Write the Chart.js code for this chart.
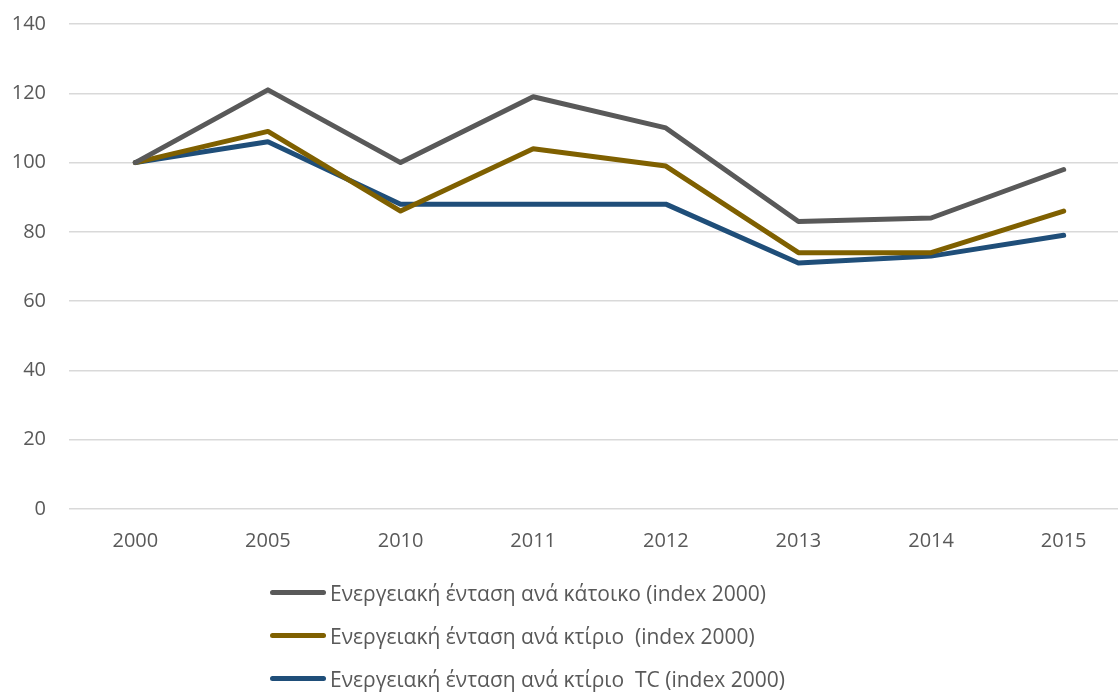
<!DOCTYPE html>
<html>
<head>
<meta charset="utf-8">
<script src="https://cdn.jsdelivr.net/npm/chart.js@4/dist/chart.umd.min.js"></script>
<style>
  html, body { margin: 0; padding: 0; background: #fff; overflow: hidden; }
  #wrap { position: absolute; left: 0; top: 0; width: 1130px; height: 573px; }
  #leg { position: absolute; left: 270px; top: 571px; font-family: "Open Sans", sans-serif; font-size: 21px; color: #595959; }
  .lg-row { height: 43px; display: flex; align-items: center; white-space: pre; }
  .lg-line { width: 56px; height: 5px; border-radius: 3px; margin-right: 4px; }
</style>
</head>
<body>
<div id="wrap"><canvas id="chart"></canvas></div>
<div id="leg"></div>
<script>
var YEARS = ['2000', '2005', '2010', '2011', '2012', '2013', '2014', '2015'];
var PER_RESIDENT = [100, 121, 100, 119, 110, 83, 84, 98];
var PER_BUILDING = [100, 109, 86, 104, 99, 74, 74, 86];
var PER_BUILDING_TC = [100, 106, 88, 88, 88, 71, 73, 79];
var SERIES_NAMES = [
  'Ενεργειακή ένταση ανά κάτοικο (index 2000)',
  'Ενεργειακή ένταση ανά κτίριο  (index 2000)',
  'Ενεργειακή ένταση ανά κτίριο  TC (index 2000)'
];
var COLORS = ['#595959', '#7f6000', '#1f4e79'];
var Y_TICKS = [0, 20, 40, 60, 80, 100, 120, 140];

var TEXT = '#595959';
var FONT = { family: '"Open Sans", sans-serif', size: 20 };

function ds(i, data) {
  return {
    label: SERIES_NAMES[i],
    data: data,
    borderColor: COLORS[i],
    backgroundColor: COLORS[i],
    borderWidth: 5,
    pointRadius: 0,
    tension: 0,
    borderCapStyle: 'round',
    borderJoinStyle: 'round'
  };
}

var chart = new Chart(document.getElementById('chart'), {
  type: 'line',
  data: {
    labels: YEARS,
    datasets: [ds(0, PER_RESIDENT), ds(1, PER_BUILDING), ds(2, PER_BUILDING_TC)]
  },
  options: {
    responsive: true,
    maintainAspectRatio: false,
    animation: false,
    layout: { padding: { left: 0, right: 0, top: 24, bottom: 8 } },
    plugins: { legend: { display: false }, tooltip: { enabled: false } },
    scales: {
      x: {
        offset: true,
        grid: { display: false },
        border: { display: false },
        ticks: { color: TEXT, font: FONT, padding: 12, maxRotation: 0 }
      },
      y: {
        min: 0,
        max: 140,
        afterBuildTicks: function(axis) { axis.ticks = Y_TICKS.map(function(v) { return { value: v }; }); },
        afterFit: function(axis) { axis.width = 69; axis.paddingTop = 0; axis.paddingBottom = 0; },
        grid: { color: '#d9d9d9', lineWidth: 1.5, drawTicks: false },
        border: { display: false },
        ticks: { color: TEXT, font: FONT, padding: 23 }
      }
    }
  }
});

var leg = document.getElementById('leg');
leg.innerHTML = SERIES_NAMES.map(function(name, i) {
  return (
    '<div class="lg-row">' +
      '<div class="lg-line" style="background:' + COLORS[i] + '"></div>' +
      '<span>' + name + '</span>' +
    '</div>'
  );
}).join('');
</script>
</body>
</html>
